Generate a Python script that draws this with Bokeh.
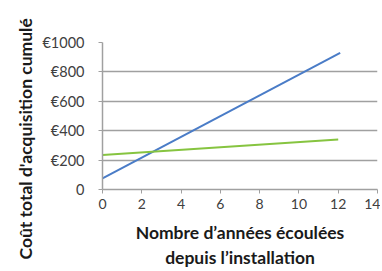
from bokeh.plotting import figure
from bokeh.models import Range1d, FixedTicker, Title
from bokeh.embed import file_html
from bokeh.resources import INLINE

# Data
blue_years = [0, 12.1]
blue_cost = [75, 930]
green_years = [0, 12]
green_cost = [235, 340]

x_ticks = [0, 2, 4, 6, 8, 10, 12, 14]
y_ticks = [0, 200, 400, 600, 800, 1000]
y_tick_labels = ["0", "€200", "€400", "€600", "€800", "€1000"]

x_title = "Nombre d’années écoulées\ndepuis l’installation"
y_title = "Coût total d'acquisition cumulé"

FONT = "Lato"

p = figure(width=380, height=270, output_backend="svg", toolbar_location=None,
           x_range=Range1d(0, 14), y_range=Range1d(0, 1000),
           min_border_left=102, min_border_right=3, min_border_top=42, min_border_bottom=73)
p.outline_line_color = None
p.background_fill_color = "white"
p.border_fill_color = "white"

p.line(blue_years, blue_cost, line_color="#4a7cc7", line_width=2)
p.line(green_years, green_cost, line_color="#86c440", line_width=2)

p.xgrid.grid_line_color = None
p.ygrid.grid_line_color = "#a0a0a0"
p.ygrid.grid_line_width = 1.5

xa = p.xaxis[0]
xa.ticker = FixedTicker(ticks=x_ticks)
xa.axis_line_color = "#a0a0a0"
xa.axis_line_width = 1.5
xa.major_tick_line_color = "#a0a0a0"
xa.major_tick_in = 0
xa.major_tick_out = 4
xa.minor_tick_line_color = None
xa.major_label_text_font = FONT
xa.major_label_text_font_size = "14px"
xa.major_label_text_color = "#404040"
xa.major_label_standoff = 5
xa.axis_label = x_title
xa.axis_label_text_font = FONT
xa.axis_label_text_font_style = "bold"
xa.axis_label_text_font_size = "17.5px"
xa.axis_label_text_color = "#1a1a1a"
xa.axis_label_standoff = 10

ya = p.yaxis[0]
ya.ticker = FixedTicker(ticks=y_ticks)
ya.major_label_overrides = {t: l for t, l in zip(y_ticks, y_tick_labels)}
ya.axis_line_color = "#a0a0a0"
ya.axis_line_width = 1.5
ya.major_tick_line_color = "#a0a0a0"
ya.major_tick_in = 0
ya.major_tick_out = 4
ya.minor_tick_line_color = None
ya.major_label_text_font = FONT
ya.major_label_text_font_size = "14.5px"
ya.major_label_text_color = "#404040"
ya.major_label_standoff = 14

t = Title(text=y_title, align="left", offset=-70, standoff=8,
          text_font=FONT, text_font_style="bold", text_font_size="17.5px",
          text_color="#1a1a1a")
p.add_layout(t, "left")

open("out.html", "w").write(file_html(p, INLINE))
